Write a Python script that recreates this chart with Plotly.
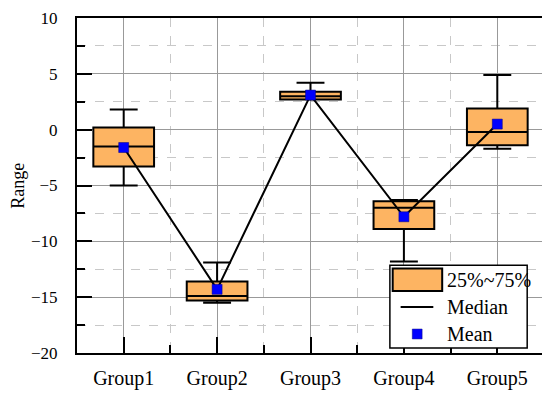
import plotly.graph_objects as go

# Box statistics
groups = ["Group1", "Group2", "Group3", "Group4", "Group5"]
q1 = [-3.3, -15.3, 2.7, -8.9, -1.4]
q3 = [0.2, -13.6, 3.4, -6.4, 1.9]
medians = [-1.5, -14.9, 3.0, -7.0, -0.2]
lower = [-5.0, -15.5, 2.7, -11.8, -1.7]
upper = [1.8, -11.9, 4.2, -6.3, 4.9]
means = [-1.6, -14.3, 3.1, -7.8, 0.5]

xpos = [i + 0.5 for i in range(len(groups))]
font = "Liberation Serif"
orange = "#FDB462"

fig = go.Figure()

fig.add_trace(go.Box(
    x=xpos, q1=q1, q3=q3, median=medians,
    lowerfence=lower, upperfence=upper,
    width=0.65, whiskerwidth=0.46,
    fillcolor=orange, line=dict(color="black", width=2),
    boxpoints=False, hoverinfo="skip", showlegend=False,
))

fig.add_trace(go.Scatter(
    x=xpos, y=means, mode="lines+markers",
    line=dict(color="black", width=2),
    marker=dict(symbol="square", size=10, color="blue",
                line=dict(color="#000080", width=0.5)),
    showlegend=False,
))

fig.update_xaxes(
    range=[0, 5], tickvals=xpos, ticktext=groups, automargin=False,
    ticks="inside", ticklen=16, tickwidth=2, tickcolor="black",
    ticklabelstandoff=6,
    showgrid=True, gridcolor="#999999", gridwidth=1.3,
    minor=dict(tickvals=[1, 2, 3, 4], ticks="inside", ticklen=8, tickwidth=2,
               tickcolor="black", showgrid=True, gridcolor="#c8c8c8",
               griddash="dash", gridwidth=1),
    showline=True, linecolor="black", linewidth=2, mirror=True,
    zeroline=False, tickfont=dict(size=20, color="black"),
)
fig.update_yaxes(
    range=[-20, 10], tickvals=[-20, -15, -10, -5, 0, 5, 10], automargin=False,
    ticktext=["\u221220", "\u221215", "\u221210", "\u22125", "0", "5", "10"],
    ticks="inside", ticklen=15, tickwidth=2, tickcolor="black",
    ticklabelstandoff=14, ticklabeloverflow="allow",
    showgrid=True, gridcolor="#999999", gridwidth=1.3,
    minor=dict(tickvals=[-17.5, -12.5, -7.5, -2.5, 2.5, 7.5], ticks="inside",
               ticklen=8, tickwidth=2, tickcolor="black", showgrid=True,
               gridcolor="#c8c8c8", griddash="dash", gridwidth=1),
    showline=True, linecolor="black", linewidth=2, mirror=True,
    zeroline=False, tickfont=dict(size=17, color="black"),
)

# Legend drawn by hand to match the reference swatches
shapes = [
    dict(type="rect", xref="paper", yref="paper", x0=0.670, x1=0.964, y0=0.015, y1=0.262,
         fillcolor="white", line=dict(color="black", width=1.5), layer="above"),
    dict(type="rect", xref="paper", yref="paper", x0=0.676, x1=0.782, y0=0.185, y1=0.252,
         fillcolor=orange, line=dict(color="black", width=2), layer="above"),
    dict(type="line", xref="paper", yref="paper", x0=0.693, x1=0.763, y0=0.137, y1=0.137,
         line=dict(color="black", width=2), layer="above"),
    dict(type="rect", xref="paper", yref="paper", x0=0.718, x1=0.739, y0=0.042, y1=0.0715,
         fillcolor="blue", line=dict(color="#000080", width=0.5), layer="above"),
]
labels = ["25%~75%", "Median", "Mean"]
label_y = [0.219, 0.138, 0.056]
annotations = [
    dict(text=t, xref="paper", yref="paper", x=0.789, y=yy, xanchor="left",
         yanchor="middle", showarrow=False, font=dict(size=20, color="black"))
    for t, yy in zip(labels, label_y)
]
# y axis title
annotations.append(dict(text="Range", xref="paper", yref="paper", x=-0.128, y=0.5,
                        textangle=-90, showarrow=False, xanchor="center", yanchor="middle",
                        font=dict(size=18, color="black")))

# the page body adds an 8px offset, so the figure is sized to fit inside it
fig.update_layout(
    width=542, height=386,
    margin=dict(l=69, r=6, t=10, b=41),
    paper_bgcolor="white", plot_bgcolor="white",
    font=dict(family=font, color="black"),
    shapes=shapes, annotations=annotations,
)

fig.write_html("out.html")
